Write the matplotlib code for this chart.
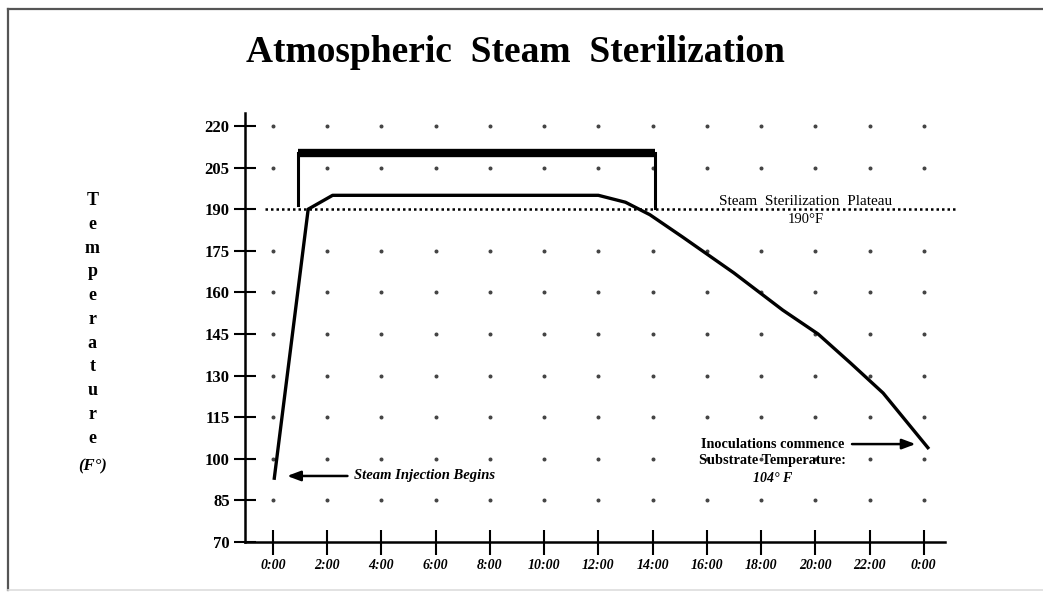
import numpy as np
import matplotlib
matplotlib.use("Agg")
import matplotlib.pyplot as plt
from matplotlib.lines import Line2D

# temperature profile: hours since steam injection vs temperature (F)
hours = [0.05, 1.3, 2.2, 12.0, 13.0, 13.9, 15.1, 17.0, 18.8, 20.1, 21.3, 22.5, 24.15]
temps = [93, 190, 195, 195, 192.5, 188, 180, 167, 153.6, 145, 134.5, 123.7, 104]

x_ticks = list(range(0, 25, 2))
x_labels = ["0:00", "2:00", "4:00", "6:00", "8:00", "10:00", "12:00",
            "14:00", "16:00", "18:00", "20:00", "22:00", "0:00"]
y_ticks = [70, 85, 100, 115, 130, 145, 160, 175, 190, 205, 220]

plateau = 190
bracket_start, bracket_end, bracket_top = 0.92, 14.1, 210.3
bracket_feet = (191.4, 190.4)
end_temp = 104

serif = "Liberation Serif"

fig = plt.figure(figsize=(10.43, 5.92), dpi=100)
fig.patch.set_facecolor("white")
# page frame: dark on top and left, faint at the bottom
fig.lines.append(Line2D([0.0072, 1.0], [0.9856, 0.9856], transform=fig.transFigure, color="#555555", lw=1.6))
fig.lines.append(Line2D([0.0072, 0.0072], [0.003, 0.9856], transform=fig.transFigure, color="#555555", lw=1.6))
fig.lines.append(Line2D([0.0072, 1.0], [0.004, 0.004], transform=fig.transFigure, color="#dddddd", lw=1.2))

ax = fig.add_axes([0.2349, 0.0845, 0.6711, 0.7247])
ax.set_xlim(-1.03, 24.78)
ax.set_ylim(70, 224.7)
for s in ["top", "right"]:
    ax.spines[s].set_visible(False)
ax.spines["left"].set_linewidth(1.8)
ax.spines["bottom"].set_linewidth(1.8)

ax.set_xticks(x_ticks)
ax.set_xticklabels(x_labels, fontfamily=serif, fontweight="bold", fontstyle="italic", fontsize=10)
ax.set_yticks(y_ticks)
ax.set_yticklabels([str(v) for v in y_ticks], fontfamily=serif, fontweight="bold", fontsize=12)
ax.tick_params(axis="y", direction="inout", length=16, width=1.5, pad=3)
ax.tick_params(axis="x", direction="inout", length=18, width=1.5, pad=3)

# dot grid at every tick crossing (the plateau row is drawn as a dotted line)
gx, gy = np.meshgrid(x_ticks, [v for v in y_ticks if v not in (70, plateau)])
ax.scatter(gx.ravel(), gy.ravel(), s=3.5, color="#444444", zorder=1)

# plateau line
ax.plot([-0.3, 25.2], [plateau, plateau], color="black", lw=1.8, ls=(0, (1, 1.2)),
        clip_on=False, zorder=2)
ax.text(19.65, plateau + 0.4, "Steam  Sterilization  Plateau", ha="center", va="bottom",
        fontfamily=serif, fontsize=11)
ax.text(19.65, plateau - 1.2, "190°F", ha="center", va="top", fontfamily=serif, fontsize=10.5)

# sterilization bracket
ax.plot([bracket_start, bracket_end], [bracket_top, bracket_top], color="black", lw=6,
        solid_capstyle="butt", zorder=3)
ax.plot([bracket_start, bracket_start], [bracket_top, bracket_feet[0]], color="black", lw=2.2, zorder=3)
ax.plot([bracket_end, bracket_end], [bracket_top, bracket_feet[1]], color="black", lw=2.2, zorder=3)

# temperature curve
ax.plot(hours, temps, color="black", lw=2.4, solid_joinstyle="round", zorder=4)

# annotations
ax.annotate("", xy=(0.42, 93.8), xytext=(2.85, 93.8),
            arrowprops=dict(arrowstyle="-|>,head_length=0.8,head_width=0.3", color="black", lw=1.8))
ax.text(2.98, 93.8, "Steam Injection Begins", ha="left", va="center", fontfamily=serif,
        fontweight="bold", fontstyle="italic", fontsize=10.5)

ax.annotate("", xy=(23.8, 105.3), xytext=(21.25, 105.3),
            arrowprops=dict(arrowstyle="-|>,head_length=0.8,head_width=0.3", color="black", lw=1.8))
ax.text(18.43, 105.3, "Inoculations commence", ha="center", va="center", fontfamily=serif,
        fontweight="bold", fontsize=10.3)
ax.text(18.43, 99.2, "Substrate Temperature:", ha="center", va="center", fontfamily=serif,
        fontweight="bold", fontsize=10.3)
ax.text(18.43, 93.0, f"{end_temp}° F", ha="center", va="center", fontfamily=serif,
        fontweight="bold", fontstyle="italic", fontsize=10)

fig.text(0.494, 0.912, "Atmospheric  Steam  Sterilization", ha="center", va="center",
         fontfamily=serif, fontweight="bold", fontsize=27)

fig.text(0.0885, 0.4605, "\n".join("Temperature"), ha="center", va="center",
         fontfamily=serif, fontweight="bold", fontsize=13, linespacing=1.52)
fig.text(0.0885, 0.212, "(F°)", ha="center", va="center", fontfamily=serif,
         fontweight="bold", fontstyle="italic", fontsize=12)

fig.savefig("out.png", dpi=100, facecolor="white")
